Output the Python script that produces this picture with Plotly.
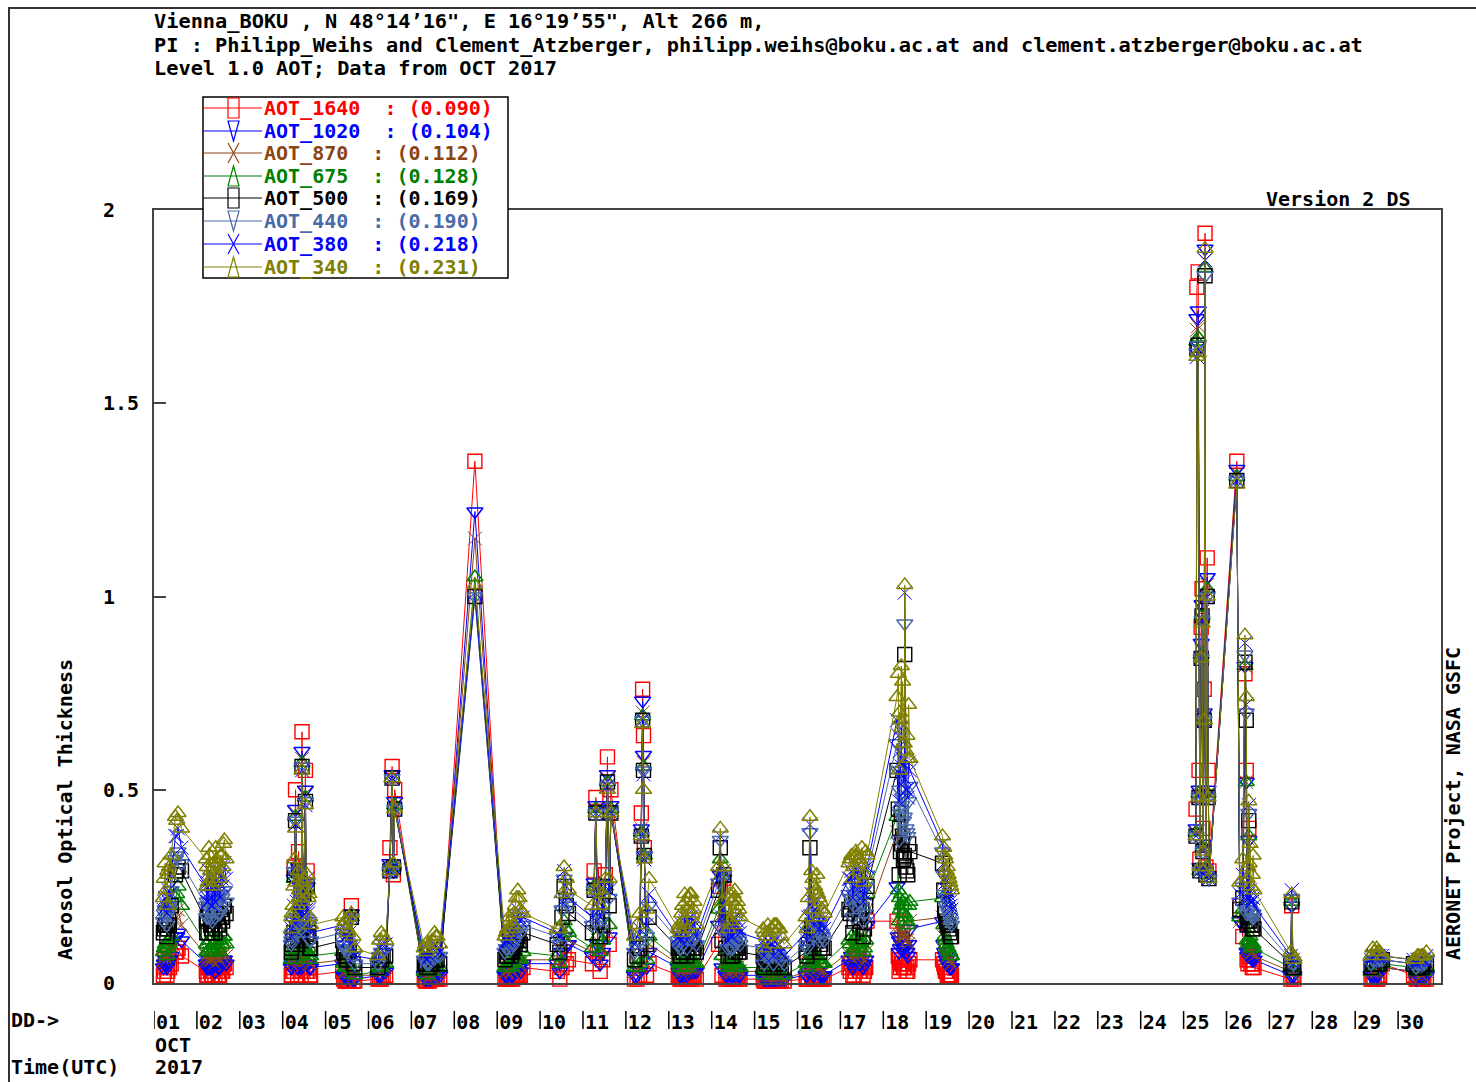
import plotly.graph_objects as go

# ---------------- data ----------------
# Observation times (day of October 2017, decimal). The later blocks hold extra
# observations inside the dense daily clusters; everything is sorted by time below.
TIME = [
    1.22, 1.26, 1.30, 1.34, 1.40, 1.50, 1.56, 1.64,
    2.22, 2.26, 2.30, 2.34, 2.38, 2.42, 2.46, 2.50, 2.55, 2.60, 2.64, 2.68,
    4.20, 4.24, 4.27, 4.30, 4.33, 4.37, 4.41, 4.45, 4.49, 4.53, 4.57, 4.61, 4.65,
    5.40, 5.45, 5.50, 5.55, 5.60, 5.64, 5.68,
    6.22, 6.26, 6.30, 6.34, 6.40, 6.50, 6.55, 6.58, 6.61,
    7.30, 7.36, 7.42, 7.48, 7.54, 7.60, 7.66,
    8.48,
    9.18, 9.24, 9.30, 9.36, 9.42, 9.48, 9.54, 9.60,
    10.40, 10.46, 10.51, 10.56, 10.61, 10.66,
    11.22, 11.26, 11.30, 11.34, 11.40, 11.46, 11.52, 11.57, 11.61, 11.65,
    12.20, 12.26, 12.32, 12.36, 12.39, 12.41, 12.43, 12.48, 12.54,
    13.22, 13.26, 13.30, 13.34, 13.39, 13.44, 13.49, 13.54, 13.59, 13.64,
    14.16, 14.20, 14.24, 14.28, 14.33, 14.45, 14.50, 14.55, 14.60, 14.66,
    15.20, 15.27, 15.34, 15.41, 15.48, 15.55, 15.62, 15.69,
    16.20, 16.25, 16.29, 16.33, 16.40, 16.47, 16.54, 16.62,
    17.20, 17.26, 17.32, 17.38, 17.44, 17.50, 17.56, 17.62,
    18.32, 18.38, 18.43, 18.47, 18.50, 18.53, 18.57, 18.62,
    19.38, 19.43, 19.47, 19.51, 19.55, 19.59,
    25.29, 25.31, 25.34, 25.36, 25.38, 25.41, 25.43, 25.45, 25.48, 25.50, 25.52, 25.55, 25.57, 25.59,
    26.24, 26.31, 26.38, 26.43, 26.46, 26.48, 26.52, 26.57, 26.64,
    27.50, 27.52, 27.55, 27.57,
    29.37, 29.44, 29.50, 29.57, 29.63,
    30.36, 30.42, 30.48, 30.54, 30.60, 30.66,
    # extra observations
    1.24, 1.28, 1.32,
    2.24, 2.32, 2.40, 2.48, 2.58,
    4.22, 4.35, 4.39, 4.43, 4.59,
    5.42, 5.48, 5.52,
    7.33, 7.45, 7.57,
    9.21, 9.39, 9.45,
    13.24, 13.32, 13.47, 13.57,
    14.47, 14.52, 14.57, 14.63,
    15.24, 15.38, 15.45, 15.52,
    16.36, 16.43, 16.50, 16.58,
    17.23, 17.35, 17.41, 17.47,
    18.35, 18.40, 18.45, 18.55,
    19.41, 19.49, 19.53,
    26.50, 26.55, 26.60,
    29.41, 29.53,
    30.45, 30.57,
    # more observations
    2.23, 2.28, 2.36, 2.44, 2.53, 2.62,
    4.21, 4.26, 4.47, 4.55, 4.63,
    9.27, 9.33, 9.51,
    13.28, 13.37, 13.42, 13.52,
    14.38, 14.42, 14.49, 14.54,
    15.22, 15.31, 15.44, 15.58,
    16.22, 16.38, 16.45, 16.52,
    17.29, 17.36, 17.53, 17.59,
    18.37, 18.42, 18.49, 18.59,
    1.36, 1.53,
    26.53, 26.62,
    19.45, 19.57,
]

AOT_1640 = [
    0.02, 0.06, 0.02, 0.08, 0.05, 0.08, 0.09, 0.07,
    0.03, 0.02, 0.04, 0.02, 0.03, 0.02, 0.04, 0.02, 0.04, 0.03, 0.05, 0.04,
    0.02, 0.04, 0.30, 0.50, 0.05, 0.34, 0.03, 0.65, 0.25, 0.55, 0.29, 0.04, 0.02,
    0.03, 0.005, 0.01, 0.005, 0.20, 0.005, 0.005,
    0.01, 0.01, 0.01, 0.02, 0.02, 0.35, 0.56, 0.28, 0.50,
    0.01, 0.005, 0.005, 0.01, 0.01, 0.01, 0.01,
    1.35,
    0.01, 0.01, 0.02, 0.01, 0.02, 0.02, 0.02, 0.04,
    0.03, 0.01, 0.04, 0.08, 0.05, 0.06,
    0.05, 0.29, 0.48, 0.08, 0.03, 0.06, 0.28, 0.585, 0.10, 0.50,
    0.01, 0.01, 0.02, 0.44, 0.76, 0.64, 0.35, 0.02, 0.05,
    0.02, 0.01, 0.02, 0.01, 0.02, 0.02, 0.02, 0.01, 0.02, 0.01,
    0.10, 0.25, 0.02, 0.27, 0.01, 0.01, 0.02, 0.01, 0.02, 0.01,
    0.01, 0.005, 0.005, 0.005, 0.005, 0.005, 0.005, 0.005,
    0.01, 0.01, 0.05, 0.02, 0.01, 0.01, 0.01, 0.01,
    0.04, 0.05, 0.02, 0.04, 0.03, 0.04, 0.03, 0.16,
    0.16, 0.06, 0.05, 0.04, 0.05, 0.03, 0.03, 0.06,
    0.06, 0.04, 0.03, 0.02, 0.02, 0.02,
    0.45, 1.80, 1.84, 0.55, 0.32, 0.92, 1.02, 0.40, 0.76, 1.94, 0.30, 1.10, 0.55, 0.29,
    1.35, 0.20, 0.12, 0.80, 0.55, 0.06, 0.40, 0.05, 0.04,
    0.01, 0.20, 0.02, 0.01,
    0.01, 0.01, 0.01, 0.02, 0.05,
    0.02, 0.01, 0.01, 0.01, 0.01, 0.01,
    # extra observations
    0.03, 0.04, 0.03,
    0.04, 0.03, 0.04, 0.03, 0.03,
    0.03, 0.02, 0.04, 0.02, 0.03,
    0.01, 0.005, 0.005,
    0.005, 0.01, 0.01,
    0.01, 0.02, 0.02,
    0.02, 0.02, 0.01, 0.02,
    0.01, 0.01, 0.02, 0.01,
    0.005, 0.005, 0.005, 0.005,
    0.01, 0.01, 0.01, 0.01,
    0.03, 0.03, 0.04, 0.03,
    0.07, 0.04, 0.05, 0.04,
    0.05, 0.02, 0.02,
    0.05, 0.07, 0.04,
    0.01, 0.01,
    0.01, 0.01,
    # more observations
    0.02, 0.04, 0.02, 0.04, 0.02, 0.05,
    0.02, 0.03, 0.03, 0.03, 0.02,
    0.01, 0.01, 0.02,
    0.01, 0.02, 0.01, 0.02,
    0.01, 0.02, 0.01, 0.02,
    0.005, 0.005, 0.005, 0.005,
    0.01, 0.01, 0.01, 0.01,
    0.02, 0.05, 0.02, 0.04,
    0.03, 0.06, 0.04, 0.05,
    0.04, 0.08,
    0.06, 0.05,
    0.03, 0.02,
]

AOT_1020 = [
    0.04, 0.05, 0.04, 0.06, 0.07, 0.12, 0.13, 0.11,
    0.05, 0.04, 0.05, 0.04, 0.05, 0.03, 0.05, 0.04, 0.06, 0.05, 0.06, 0.05,
    0.04, 0.05, 0.27, 0.45, 0.07, 0.30, 0.05, 0.60, 0.22, 0.50, 0.25, 0.06, 0.04,
    0.05, 0.02, 0.02, 0.02, 0.18, 0.01, 0.01,
    0.02, 0.02, 0.02, 0.03, 0.03, 0.31, 0.54, 0.29, 0.47,
    0.02, 0.01, 0.01, 0.02, 0.02, 0.02, 0.02,
    1.22,
    0.02, 0.02, 0.03, 0.02, 0.03, 0.04, 0.03, 0.05,
    0.05, 0.03, 0.08, 0.12, 0.10, 0.10,
    0.07, 0.26, 0.46, 0.10, 0.05, 0.08, 0.25, 0.54, 0.12, 0.46,
    0.02, 0.02, 0.03, 0.40, 0.73, 0.59, 0.33, 0.04, 0.08,
    0.04, 0.02, 0.03, 0.02, 0.03, 0.03, 0.03, 0.03, 0.03, 0.03,
    0.15, 0.28, 0.04, 0.27, 0.02, 0.02, 0.03, 0.02, 0.03, 0.02,
    0.02, 0.01, 0.01, 0.01, 0.01, 0.01, 0.01, 0.01,
    0.02, 0.03, 0.10, 0.04, 0.03, 0.03, 0.02, 0.02,
    0.06, 0.07, 0.05, 0.07, 0.05, 0.06, 0.05, 0.15,
    0.25, 0.11, 0.10, 0.09, 0.10, 0.08, 0.07, 0.14,
    0.16, 0.08, 0.06, 0.05, 0.04, 0.04,
    0.40, 1.72, 1.74, 0.50, 0.30, 0.88, 0.98, 0.36, 0.70, 1.90, 0.28, 1.05, 0.50, 0.27,
    1.33, 0.16, 0.15, 0.82, 0.52, 0.08, 0.37, 0.07, 0.06,
    0.02, 0.20, 0.02, 0.02,
    0.02, 0.02, 0.02, 0.03, 0.04,
    0.03, 0.01, 0.02, 0.02, 0.02, 0.02,
    # extra observations
    0.05, 0.06, 0.05,
    0.05, 0.04, 0.05, 0.05, 0.05,
    0.05, 0.04, 0.06, 0.04, 0.05,
    0.02, 0.02, 0.01,
    0.01, 0.01, 0.02,
    0.02, 0.03, 0.03,
    0.03, 0.03, 0.03, 0.03,
    0.02, 0.03, 0.03, 0.02,
    0.01, 0.01, 0.01, 0.01,
    0.03, 0.03, 0.03, 0.02,
    0.05, 0.06, 0.06, 0.05,
    0.12, 0.09, 0.10, 0.08,
    0.10, 0.05, 0.05,
    0.07, 0.09, 0.06,
    0.02, 0.02,
    0.02, 0.02,
    # more observations
    0.04, 0.06, 0.04, 0.06, 0.04, 0.06,
    0.04, 0.05, 0.05, 0.05, 0.04,
    0.03, 0.02, 0.04,
    0.02, 0.03, 0.02, 0.03,
    0.02, 0.03, 0.02, 0.03,
    0.01, 0.01, 0.01, 0.01,
    0.02, 0.02, 0.03, 0.02,
    0.04, 0.07, 0.04, 0.06,
    0.08, 0.12, 0.09, 0.10,
    0.06, 0.12,
    0.08, 0.07,
    0.07, 0.04,
]

AOT_870 = [
    0.06, 0.07, 0.06, 0.08, 0.09, 0.16, 0.19, 0.15,
    0.07, 0.06, 0.07, 0.06, 0.07, 0.05, 0.07, 0.06, 0.08, 0.07, 0.08, 0.07,
    0.05, 0.06, 0.27, 0.44, 0.08, 0.30, 0.06, 0.58, 0.22, 0.49, 0.25, 0.07, 0.05,
    0.06, 0.03, 0.03, 0.03, 0.17, 0.02, 0.02,
    0.02, 0.03, 0.03, 0.04, 0.04, 0.30, 0.53, 0.29, 0.46,
    0.02, 0.02, 0.02, 0.02, 0.03, 0.03, 0.03,
    1.15,
    0.03, 0.03, 0.04, 0.03, 0.04, 0.05, 0.05, 0.06,
    0.06, 0.04, 0.10, 0.14, 0.12, 0.11,
    0.08, 0.26, 0.45, 0.11, 0.06, 0.09, 0.25, 0.53, 0.13, 0.45,
    0.03, 0.03, 0.04, 0.40, 0.70, 0.57, 0.33, 0.05, 0.10,
    0.05, 0.03, 0.04, 0.03, 0.04, 0.04, 0.04, 0.04, 0.04, 0.04,
    0.17, 0.30, 0.05, 0.27, 0.03, 0.03, 0.04, 0.03, 0.04, 0.03,
    0.03, 0.02, 0.02, 0.02, 0.02, 0.02, 0.02, 0.01,
    0.03, 0.04, 0.12, 0.06, 0.05, 0.04, 0.04, 0.03,
    0.08, 0.09, 0.07, 0.09, 0.07, 0.08, 0.06, 0.17,
    0.39, 0.14, 0.13, 0.12, 0.13, 0.11, 0.10, 0.16,
    0.17, 0.10, 0.08, 0.07, 0.06, 0.05,
    0.39, 1.69, 1.70, 0.49, 0.29, 0.86, 0.96, 0.35, 0.69, 1.87, 0.28, 1.03, 0.49, 0.27,
    1.32, 0.16, 0.17, 0.82, 0.52, 0.09, 0.37, 0.08, 0.07,
    0.03, 0.21, 0.03, 0.02,
    0.03, 0.03, 0.03, 0.04, 0.04,
    0.03, 0.02, 0.02, 0.02, 0.03, 0.03,
    # extra observations
    0.07, 0.08, 0.07,
    0.07, 0.06, 0.07, 0.07, 0.07,
    0.06, 0.05, 0.07, 0.05, 0.06,
    0.03, 0.03, 0.02,
    0.02, 0.02, 0.03,
    0.03, 0.04, 0.04,
    0.04, 0.04, 0.04, 0.04,
    0.03, 0.04, 0.04, 0.03,
    0.02, 0.02, 0.02, 0.02,
    0.05, 0.05, 0.04, 0.03,
    0.07, 0.08, 0.08, 0.07,
    0.15, 0.12, 0.13, 0.11,
    0.12, 0.07, 0.06,
    0.08, 0.10, 0.08,
    0.03, 0.03,
    0.03, 0.02,
    # more observations
    0.06, 0.08, 0.06, 0.08, 0.06, 0.08,
    0.05, 0.07, 0.06, 0.06, 0.05,
    0.04, 0.03, 0.05,
    0.03, 0.04, 0.03, 0.04,
    0.03, 0.04, 0.03, 0.04,
    0.02, 0.02, 0.01, 0.02,
    0.03, 0.04, 0.05, 0.03,
    0.06, 0.09, 0.05, 0.08,
    0.11, 0.15, 0.12, 0.13,
    0.08, 0.17,
    0.09, 0.08,
    0.09, 0.05,
]

AOT_675 = [
    0.08, 0.10, 0.07, 0.11, 0.12, 0.22, 0.25, 0.20,
    0.10, 0.08, 0.11, 0.08, 0.10, 0.08, 0.11, 0.09, 0.11, 0.10, 0.12, 0.10,
    0.06, 0.08, 0.27, 0.43, 0.10, 0.29, 0.08, 0.57, 0.22, 0.48, 0.24, 0.09, 0.07,
    0.08, 0.04, 0.04, 0.05, 0.17, 0.03, 0.02,
    0.03, 0.04, 0.04, 0.05, 0.05, 0.30, 0.53, 0.30, 0.46,
    0.03, 0.02, 0.03, 0.03, 0.04, 0.04, 0.04,
    1.05,
    0.04, 0.04, 0.05, 0.05, 0.06, 0.07, 0.06, 0.08,
    0.07, 0.05, 0.12, 0.16, 0.14, 0.13,
    0.09, 0.25, 0.45, 0.12, 0.08, 0.11, 0.25, 0.52, 0.15, 0.45,
    0.04, 0.04, 0.05, 0.39, 0.69, 0.56, 0.33, 0.06, 0.12,
    0.06, 0.04, 0.05, 0.05, 0.06, 0.05, 0.06, 0.05, 0.05, 0.05,
    0.19, 0.32, 0.07, 0.27, 0.05, 0.04, 0.05, 0.04, 0.05, 0.04,
    0.04, 0.03, 0.03, 0.03, 0.03, 0.03, 0.02, 0.02,
    0.05, 0.06, 0.15, 0.08, 0.07, 0.06, 0.05, 0.05,
    0.11, 0.12, 0.09, 0.12, 0.10, 0.11, 0.09, 0.23,
    0.43, 0.22, 0.20, 0.18, 0.20, 0.17, 0.15, 0.21,
    0.22, 0.12, 0.10, 0.09, 0.08, 0.07,
    0.39, 1.66, 1.67, 0.49, 0.29, 0.85, 0.95, 0.35, 0.68, 1.85, 0.28, 1.02, 0.49, 0.27,
    1.31, 0.17, 0.19, 0.82, 0.52, 0.11, 0.38, 0.10, 0.09,
    0.04, 0.21, 0.03, 0.03,
    0.03, 0.04, 0.04, 0.04, 0.05,
    0.04, 0.03, 0.03, 0.03, 0.03, 0.04,
    # extra observations
    0.09, 0.10, 0.09,
    0.10, 0.09, 0.10, 0.10, 0.10,
    0.07, 0.07, 0.09, 0.07, 0.08,
    0.05, 0.04, 0.04,
    0.03, 0.03, 0.04,
    0.04, 0.05, 0.06,
    0.05, 0.05, 0.05, 0.05,
    0.05, 0.05, 0.05, 0.04,
    0.03, 0.03, 0.03, 0.03,
    0.07, 0.07, 0.06, 0.05,
    0.10, 0.11, 0.11, 0.10,
    0.24, 0.19, 0.21, 0.16,
    0.15, 0.09, 0.08,
    0.10, 0.12, 0.09,
    0.04, 0.04,
    0.03, 0.03,
    # more observations
    0.08, 0.11, 0.08, 0.11, 0.08, 0.12,
    0.06, 0.09, 0.08, 0.08, 0.06,
    0.05, 0.04, 0.06,
    0.04, 0.05, 0.04, 0.06,
    0.04, 0.05, 0.04, 0.06,
    0.02, 0.03, 0.02, 0.03,
    0.04, 0.05, 0.07, 0.05,
    0.08, 0.12, 0.08, 0.11,
    0.16, 0.23, 0.18, 0.20,
    0.10, 0.23,
    0.11, 0.10,
    0.11, 0.07,
]

AOT_500 = [
    0.13, 0.15, 0.12, 0.16, 0.20, 0.28, 0.30, 0.29,
    0.16, 0.13, 0.18, 0.14, 0.17, 0.13, 0.18, 0.15, 0.19, 0.16, 0.20, 0.18,
    0.08, 0.11, 0.28, 0.42, 0.14, 0.29, 0.12, 0.56, 0.23, 0.47, 0.25, 0.13, 0.09,
    0.11, 0.07, 0.06, 0.08, 0.17, 0.05, 0.04,
    0.04, 0.06, 0.06, 0.07, 0.07, 0.29, 0.53, 0.30, 0.45,
    0.05, 0.04, 0.04, 0.05, 0.06, 0.06, 0.05,
    1.00,
    0.06, 0.07, 0.08, 0.08, 0.10, 0.12, 0.10, 0.13,
    0.10, 0.08, 0.17, 0.25, 0.20, 0.18,
    0.13, 0.24, 0.44, 0.16, 0.12, 0.15, 0.25, 0.52, 0.20, 0.44,
    0.06, 0.07, 0.09, 0.38, 0.68, 0.55, 0.33, 0.10, 0.17,
    0.09, 0.07, 0.09, 0.08, 0.10, 0.09, 0.10, 0.09, 0.09, 0.08,
    0.24, 0.35, 0.11, 0.28, 0.09, 0.07, 0.10, 0.08, 0.09, 0.08,
    0.07, 0.05, 0.05, 0.06, 0.06, 0.05, 0.04, 0.04,
    0.08, 0.10, 0.35, 0.14, 0.12, 0.11, 0.10, 0.09,
    0.19, 0.21, 0.16, 0.21, 0.17, 0.19, 0.14, 0.25,
    0.55, 0.40, 0.36, 0.32, 0.85, 0.30, 0.28, 0.34,
    0.31, 0.19, 0.16, 0.15, 0.13, 0.12,
    0.38, 1.64, 1.65, 0.48, 0.29, 0.84, 0.95, 0.34, 0.68, 1.83, 0.28, 1.00, 0.48, 0.27,
    1.30, 0.19, 0.22, 0.83, 0.68, 0.15, 0.42, 0.15, 0.14,
    0.05, 0.21, 0.04, 0.04,
    0.04, 0.05, 0.05, 0.05, 0.06,
    0.05, 0.04, 0.04, 0.04, 0.05, 0.05,
    # extra observations
    0.14, 0.15, 0.14,
    0.17, 0.15, 0.16, 0.17, 0.17,
    0.10, 0.10, 0.13, 0.11, 0.12,
    0.08, 0.06, 0.07,
    0.05, 0.05, 0.06,
    0.07, 0.09, 0.11,
    0.08, 0.09, 0.09, 0.08,
    0.09, 0.09, 0.09, 0.08,
    0.06, 0.06, 0.06, 0.05,
    0.13, 0.12, 0.11, 0.09,
    0.18, 0.19, 0.20, 0.16,
    0.45, 0.34, 0.38, 0.29,
    0.24, 0.15, 0.14,
    0.16, 0.17, 0.14,
    0.05, 0.05,
    0.04, 0.04,
    # more observations
    0.13, 0.19, 0.13, 0.19, 0.14, 0.20,
    0.09, 0.13, 0.13, 0.12, 0.09,
    0.08, 0.07, 0.11,
    0.07, 0.10, 0.07, 0.10,
    0.07, 0.10, 0.07, 0.10,
    0.04, 0.06, 0.04, 0.05,
    0.07, 0.09, 0.12, 0.08,
    0.13, 0.22, 0.12, 0.20,
    0.28, 0.44, 0.33, 0.36,
    0.15, 0.29,
    0.16, 0.15,
    0.18, 0.12,
]

AOT_440 = [
    0.16, 0.19, 0.15, 0.20, 0.24, 0.32, 0.34, 0.31,
    0.20, 0.17, 0.21, 0.17, 0.21, 0.17, 0.22, 0.18, 0.23, 0.20, 0.24, 0.21,
    0.10, 0.13, 0.29, 0.42, 0.17, 0.29, 0.15, 0.56, 0.24, 0.47, 0.26, 0.16, 0.11,
    0.13, 0.09, 0.08, 0.10, 0.17, 0.07, 0.05,
    0.05, 0.07, 0.08, 0.08, 0.09, 0.29, 0.53, 0.30, 0.45,
    0.06, 0.05, 0.05, 0.07, 0.08, 0.07, 0.07,
    1.00,
    0.08, 0.09, 0.10, 0.10, 0.13, 0.15, 0.13, 0.15,
    0.12, 0.10, 0.19, 0.27, 0.22, 0.20,
    0.15, 0.24, 0.44, 0.18, 0.14, 0.17, 0.25, 0.51, 0.22, 0.44,
    0.08, 0.09, 0.11, 0.38, 0.68, 0.55, 0.33, 0.12, 0.20,
    0.11, 0.09, 0.11, 0.10, 0.12, 0.12, 0.13, 0.11, 0.12, 0.10,
    0.26, 0.37, 0.14, 0.28, 0.12, 0.09, 0.13, 0.10, 0.12, 0.10,
    0.09, 0.07, 0.07, 0.07, 0.08, 0.07, 0.06, 0.05,
    0.10, 0.13, 0.39, 0.18, 0.15, 0.14, 0.13, 0.11,
    0.23, 0.25, 0.20, 0.25, 0.21, 0.24, 0.18, 0.28,
    0.62, 0.50, 0.46, 0.42, 0.93, 0.40, 0.38, 0.51,
    0.34, 0.23, 0.20, 0.19, 0.17, 0.15,
    0.38, 1.63, 1.65, 0.48, 0.29, 0.84, 0.94, 0.34, 0.68, 1.83, 0.28, 1.00, 0.48, 0.27,
    1.30, 0.21, 0.25, 0.85, 0.70, 0.18, 0.44, 0.18, 0.17,
    0.06, 0.22, 0.05, 0.05,
    0.05, 0.06, 0.06, 0.06, 0.06,
    0.05, 0.04, 0.05, 0.05, 0.05, 0.06,
    # extra observations
    0.18, 0.17, 0.18,
    0.21, 0.19, 0.20, 0.21, 0.22,
    0.12, 0.13, 0.16, 0.14, 0.15,
    0.10, 0.09, 0.09,
    0.06, 0.06, 0.08,
    0.09, 0.11, 0.14,
    0.10, 0.12, 0.12, 0.11,
    0.12, 0.12, 0.12, 0.11,
    0.08, 0.08, 0.08, 0.07,
    0.16, 0.15, 0.14, 0.12,
    0.22, 0.23, 0.24, 0.20,
    0.55, 0.44, 0.48, 0.39,
    0.28, 0.19, 0.18,
    0.19, 0.20, 0.17,
    0.06, 0.06,
    0.05, 0.05,
    # more observations
    0.17, 0.23, 0.16, 0.23, 0.18, 0.24,
    0.11, 0.16, 0.16, 0.15, 0.11,
    0.10, 0.09, 0.14,
    0.09, 0.13, 0.09, 0.13,
    0.09, 0.13, 0.09, 0.13,
    0.05, 0.08, 0.05, 0.07,
    0.09, 0.12, 0.16, 0.11,
    0.17, 0.26, 0.16, 0.25,
    0.37, 0.55, 0.43, 0.47,
    0.19, 0.33,
    0.19, 0.18,
    0.22, 0.16,
]

AOT_380 = [
    0.19, 0.22, 0.18, 0.24, 0.28, 0.38, 0.40, 0.35,
    0.25, 0.21, 0.27, 0.22, 0.26, 0.21, 0.27, 0.23, 0.28, 0.25, 0.31, 0.27,
    0.12, 0.16, 0.30, 0.41, 0.21, 0.28, 0.18, 0.55, 0.25, 0.46, 0.27, 0.19, 0.13,
    0.15, 0.12, 0.11, 0.13, 0.17, 0.09, 0.07,
    0.06, 0.09, 0.10, 0.10, 0.10, 0.29, 0.53, 0.30, 0.45,
    0.07, 0.06, 0.07, 0.09, 0.10, 0.09, 0.08,
    1.01,
    0.10, 0.11, 0.13, 0.12, 0.16, 0.19, 0.16, 0.17,
    0.13, 0.12, 0.21, 0.29, 0.25, 0.22,
    0.17, 0.24, 0.44, 0.21, 0.17, 0.20, 0.26, 0.51, 0.24, 0.44,
    0.10, 0.12, 0.14, 0.38, 0.68, 0.54, 0.32, 0.15, 0.23,
    0.12, 0.11, 0.14, 0.13, 0.16, 0.15, 0.17, 0.14, 0.16, 0.12,
    0.28, 0.38, 0.17, 0.29, 0.15, 0.12, 0.17, 0.13, 0.16, 0.13,
    0.11, 0.09, 0.09, 0.10, 0.11, 0.10, 0.08, 0.07,
    0.13, 0.17, 0.41, 0.23, 0.19, 0.18, 0.16, 0.14,
    0.27, 0.29, 0.25, 0.29, 0.26, 0.29, 0.23, 0.30,
    0.68, 0.60, 0.56, 0.52, 1.01, 0.50, 0.48, 0.55,
    0.36, 0.27, 0.24, 0.23, 0.21, 0.19,
    0.38, 1.62, 1.64, 0.48, 0.29, 0.84, 0.94, 0.34, 0.68, 1.87, 0.29, 1.00, 0.48, 0.27,
    1.30, 0.23, 0.28, 0.88, 0.72, 0.22, 0.46, 0.21, 0.20,
    0.07, 0.24, 0.06, 0.05,
    0.06, 0.07, 0.07, 0.07, 0.07,
    0.06, 0.05, 0.06, 0.06, 0.06, 0.07,
    # extra observations
    0.21, 0.20, 0.22,
    0.26, 0.24, 0.25, 0.26, 0.27,
    0.15, 0.16, 0.19, 0.17, 0.18,
    0.13, 0.12, 0.11,
    0.08, 0.08, 0.10,
    0.11, 0.14, 0.17,
    0.12, 0.15, 0.16, 0.15,
    0.16, 0.16, 0.15, 0.14,
    0.10, 0.10, 0.11, 0.10,
    0.21, 0.19, 0.18, 0.15,
    0.27, 0.28, 0.28, 0.25,
    0.64, 0.54, 0.58, 0.50,
    0.31, 0.24, 0.22,
    0.23, 0.24, 0.21,
    0.07, 0.07,
    0.06, 0.06,
    # more observations
    0.21, 0.29, 0.20, 0.29, 0.22, 0.30,
    0.14, 0.20, 0.20, 0.19, 0.14,
    0.13, 0.11, 0.17,
    0.11, 0.17, 0.11, 0.17,
    0.11, 0.17, 0.12, 0.17,
    0.07, 0.11, 0.07, 0.10,
    0.11, 0.15, 0.21, 0.14,
    0.22, 0.30, 0.21, 0.29,
    0.47, 0.66, 0.53, 0.57,
    0.23, 0.38,
    0.22, 0.22,
    0.26, 0.20,
]

AOT_340 = [
    0.22, 0.31, 0.20, 0.28, 0.33, 0.43, 0.44, 0.40,
    0.32, 0.26, 0.33, 0.27, 0.31, 0.26, 0.32, 0.28, 0.33, 0.30, 0.37, 0.32,
    0.14, 0.20, 0.32, 0.40, 0.26, 0.29, 0.22, 0.55, 0.27, 0.46, 0.28, 0.23, 0.15,
    0.17, 0.16, 0.14, 0.17, 0.18, 0.12, 0.09,
    0.07, 0.11, 0.13, 0.12, 0.11, 0.29, 0.53, 0.31, 0.45,
    0.09, 0.08, 0.09, 0.11, 0.13, 0.12, 0.10,
    1.03,
    0.12, 0.14, 0.16, 0.15, 0.20, 0.24, 0.19, 0.18,
    0.14, 0.14, 0.23, 0.30, 0.27, 0.24,
    0.20, 0.24, 0.44, 0.24, 0.20, 0.23, 0.27, 0.50, 0.27, 0.44,
    0.12, 0.15, 0.18, 0.38, 0.67, 0.50, 0.32, 0.19, 0.27,
    0.14, 0.14, 0.18, 0.16, 0.21, 0.19, 0.23, 0.18, 0.21, 0.15,
    0.30, 0.40, 0.21, 0.30, 0.19, 0.16, 0.23, 0.18, 0.21, 0.17,
    0.14, 0.12, 0.13, 0.14, 0.15, 0.14, 0.12, 0.10,
    0.17, 0.22, 0.43, 0.29, 0.25, 0.23, 0.21, 0.18,
    0.31, 0.33, 0.30, 0.33, 0.32, 0.35, 0.28, 0.33,
    0.74, 0.70, 0.66, 0.62, 1.03, 0.60, 0.58, 0.58,
    0.38, 0.33, 0.29, 0.28, 0.26, 0.24,
    0.38, 1.62, 1.63, 0.48, 0.30, 0.84, 0.93, 0.34, 0.68, 1.90, 0.30, 1.00, 0.48, 0.27,
    1.29, 0.26, 0.32, 0.90, 0.74, 0.27, 0.47, 0.25, 0.24,
    0.08, 0.23, 0.07, 0.06,
    0.07, 0.08, 0.09, 0.08, 0.07,
    0.06, 0.06, 0.07, 0.07, 0.07, 0.08,
    # extra observations
    0.27, 0.24, 0.29,
    0.30, 0.29, 0.30, 0.31, 0.33,
    0.18, 0.20, 0.24, 0.21, 0.22,
    0.15, 0.16, 0.13,
    0.10, 0.10, 0.12,
    0.13, 0.18, 0.22,
    0.15, 0.20, 0.22, 0.19,
    0.21, 0.22, 0.20, 0.19,
    0.13, 0.14, 0.15, 0.15,
    0.27, 0.24, 0.22, 0.19,
    0.32, 0.33, 0.32, 0.31,
    0.80, 0.68, 0.78, 0.64,
    0.35, 0.30, 0.27,
    0.30, 0.36, 0.28,
    0.09, 0.08,
    0.07, 0.07,
    # more observations
    0.25, 0.35, 0.25, 0.35, 0.27, 0.36,
    0.17, 0.25, 0.26, 0.24, 0.17,
    0.17, 0.14, 0.22,
    0.13, 0.23, 0.14, 0.23,
    0.14, 0.23, 0.15, 0.24,
    0.09, 0.15, 0.10, 0.14,
    0.14, 0.19, 0.28, 0.17,
    0.27, 0.34, 0.26, 0.34,
    0.55, 0.82, 0.62, 0.72,
    0.30, 0.42,
    0.31, 0.33,
    0.32, 0.25,
]

SERIES_NAMES = ["AOT_1640", "AOT_1020", "AOT_870", "AOT_675", "AOT_500", "AOT_440", "AOT_380", "AOT_340"]
LEGEND_MEANS = ["0.090", "0.104", "0.112", "0.128", "0.169", "0.190", "0.218", "0.231"]
DAYS = list(range(1, 31))
DAY_LABELS = ["%02d" % d for d in DAYS]
Y_TICKS = [0, 0.5, 1, 1.5, 2]
Y_LABELS = ["0\u00a0\u00a0", "0.5", "1\u00a0\u00a0", "1.5", "2\u00a0\u00a0"]

# ---------------- styling ----------------
COLORS = ["#ff0000", "#0000ff", "#8b4513", "#008000", "#000000", "#4a6aa8", "#0000ff", "#808000"]
SYMBOLS = ["square-open", "triangle-down-open", "x-thin-open", "triangle-up-open",
           "square-open", "triangle-down-open", "x-thin-open", "triangle-up-open"]
VALUES = [AOT_1640, AOT_1020, AOT_870, AOT_675, AOT_500, AOT_440, AOT_380, AOT_340]
for v in VALUES:
    assert len(v) == len(TIME), (len(v), len(TIME))

ORDER = sorted(range(len(TIME)), key=lambda i: TIME[i])

W, H = 1476, 1082
L, R, T, B = 154, 1441, 210, 983
FONT = "DejaVu Sans Mono"


def px(x):
    return (x - L) / (R - L)


def py(y):
    return (B - y) / (B - T)


fig = go.Figure()

for name, vals, color, sym in zip(SERIES_NAMES, VALUES, COLORS, SYMBOLS):
    xs, ys = [], []
    prev = None
    for i in ORDER:
        t, v = TIME[i], vals[i]
        if prev is not None and t - prev > 1.0:
            xs.append(None)
            ys.append(None)
        xs.append(t)
        ys.append(v)
        prev = t
    mlw = 1.0 if sym.startswith("x") else (1.5 if sym.startswith("triangle") else 1.4)
    fig.add_trace(go.Scatter(
        x=xs, y=ys, name=name, mode="lines+markers",
        line=dict(color=color, width=1),
        marker=dict(symbol=sym, size=14, color=color, line=dict(color=color, width=mlw)),
        cliponaxis=False, connectgaps=False, showlegend=False,
    ))

shapes = []
# outer page frame (top and left edges visible)
shapes.append(dict(type="rect", xref="paper", yref="paper", x0=px(9), x1=px(1490),
                   y0=py(1100), y1=py(8), line=dict(color="#333333", width=2), layer="below"))
# tick bars beside day labels
for d in DAYS:
    shapes.append(dict(type="line", xref="x", yref="paper", x0=d, x1=d,
                       y0=py(1011), y1=py(1029), line=dict(color="black", width=1.5)))

# legend box
shapes.append(dict(type="rect", xref="paper", yref="paper", x0=px(203), x1=px(508),
                   y0=py(278), y1=py(97), fillcolor="white",
                   line=dict(color="black", width=1.5), layer="above"))
ROWS = [108, 131, 153, 176, 198, 221, 244, 267]
mx, hw, hh = 233.5, 5.5, 10
annotations = []
for i, (name, mean, color, sym) in enumerate(zip(SERIES_NAMES, LEGEND_MEANS, COLORS, SYMBOLS)):
    ry = ROWS[i]
    shapes.append(dict(type="line", xref="paper", yref="paper", x0=px(203), x1=px(262),
                       y0=py(ry), y1=py(ry), line=dict(color=color, width=1.2), layer="above"))
    if sym.startswith("square"):
        shapes.append(dict(type="rect", xref="paper", yref="paper", x0=px(mx - hw), x1=px(mx + hw),
                           y0=py(ry + hh), y1=py(ry - hh), line=dict(color=color, width=1.2), layer="above"))
    elif sym.startswith("triangle-up"):
        path = "M %f,%f L %f,%f L %f,%f Z" % (px(mx), py(ry - hh), px(mx - hw), py(ry + hh), px(mx + hw), py(ry + hh))
        shapes.append(dict(type="path", xref="paper", yref="paper", path=path,
                           line=dict(color=color, width=1.2), layer="above"))
    elif sym.startswith("triangle-down"):
        path = "M %f,%f L %f,%f L %f,%f Z" % (px(mx), py(ry + hh), px(mx - hw), py(ry - hh), px(mx + hw), py(ry - hh))
        shapes.append(dict(type="path", xref="paper", yref="paper", path=path,
                           line=dict(color=color, width=1.2), layer="above"))
    else:
        shapes.append(dict(type="line", xref="paper", yref="paper", x0=px(mx - hw), x1=px(mx + hw),
                           y0=py(ry - hh), y1=py(ry + hh), line=dict(color=color, width=1.2), layer="above"))
        shapes.append(dict(type="line", xref="paper", yref="paper", x0=px(mx - hw), x1=px(mx + hw),
                           y0=py(ry + hh), y1=py(ry - hh), line=dict(color=color, width=1.2), layer="above"))
    annotations.append(dict(xref="paper", yref="paper", x=px(262), y=py(ry), xanchor="left",
                            yanchor="middle", showarrow=False, text="%s  : (%s)" % (name, mean),
                            font=dict(family=FONT, size=20, color=color, weight="bold")))


def note(text, x, y, xanchor="left", angle=0, size=20):
    annotations.append(dict(xref="paper", yref="paper", x=px(x), y=py(y), xanchor=xanchor,
                            yanchor="middle", showarrow=False, text=text, textangle=angle,
                            font=dict(family=FONT, size=size, color="black", weight="bold")))


note("Vienna_BOKU , N 48\u00b014\u201916\", E 16\u00b019\u201955\", Alt 266 m,", 152, 21, size=20.3)
note("PI : Philipp_Weihs and Clement_Atzberger, philipp.weihs@boku.ac.at and clement.atzberger@boku.ac.at",
     152, 45, size=20.3)
note("Level 1.0 AOT; Data from OCT 2017", 152, 68, size=20.3)
note("Version 2 DS", 1264, 199)
note("Aerosol Optical Thickness", 65, 810, xanchor="center", angle=-90)
note("AERONET Project, NASA GSFC", 1453, 803, xanchor="center", angle=-90)
note("DD->", 9, 1020)
note("OCT", 153, 1045)
note("Time(UTC)", 9, 1067)
note("2017", 153, 1067)

fig.update_layout(
    width=W, height=H,
    margin=dict(l=L, r=W - R, t=T, b=H - B, pad=0),
    paper_bgcolor="white", plot_bgcolor="white",
    showlegend=False,
    font=dict(family=FONT, size=20, color="black", weight="bold"),
    shapes=shapes, annotations=annotations,
)
fig.update_xaxes(
    range=[1, 31], tickmode="array", tickvals=DAYS, ticktext=DAY_LABELS, ticks="",
    showgrid=False, zeroline=False, showline=True, linecolor="#444444", linewidth=2, mirror=True,
    ticklabelshift=14, ticklabelstandoff=20,
    tickfont=dict(family=FONT, size=20, color="black", weight="bold"),
)
fig.update_yaxes(
    range=[0, 2], tickmode="array", tickvals=Y_TICKS, ticktext=Y_LABELS,
    ticks="inside", ticklen=12, tickwidth=2, tickcolor="#444444",
    showgrid=False, zeroline=False, showline=True, linecolor="#444444", linewidth=2, mirror=True,
    ticklabelstandoff=9,
    tickfont=dict(family=FONT, size=20, color="black", weight="bold"),
)

fig.write_html("out.html")
